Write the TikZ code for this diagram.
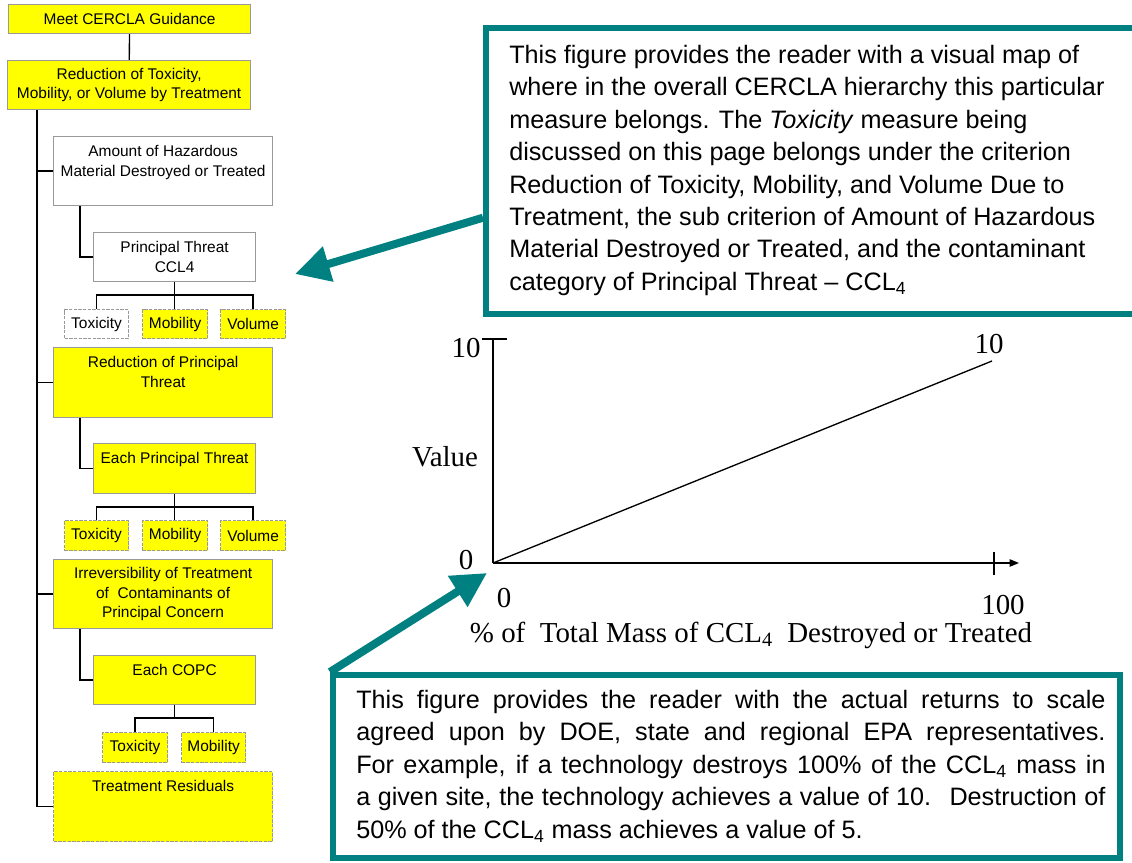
\documentclass[tikz,border=0pt]{standalone}
\usepackage{fontspec}
\setmainfont{Liberation Sans}
\newfontfamily\graphfont{Liberation Serif}
\usetikzlibrary{arrows.meta,fit,calc}
\definecolor{tealline}{HTML}{008080}
\definecolor{boxyellow}{HTML}{FFFF00}
\definecolor{boxedge}{HTML}{999999}

% box given by its corners (in px): style, name, x1, y1, x2, y2, text
\newcommand\chartbox[7]{%
  \node[#1, anchor=north west, minimum width={(#5-#3)*0.75pt},
        minimum height={(#6-#4)*0.75pt}] (#2) at (#3,#4) {#7};}

\begin{document}
\begin{tikzpicture}[x=0.75pt,y=-0.75pt,
  boxfont/.style={font=\fontsize{11.6}{14.6}\selectfont},
  boxbase/.style={draw=boxedge, line width=0.9pt, inner sep=0pt, boxfont, align=center},
  ybox/.style={boxbase, fill=boxyellow},
  wbox/.style={boxbase, fill=white},
  dashbox/.style={dash pattern=on 2.5pt off 1pt},
  toptext/.style={anchor=north, inner sep=0pt, yshift=-7pt, align=center, boxfont},
  link/.style={draw=black, line width=1pt},
  callout/.style={draw=tealline, line width=4.5pt, fill=white, inner sep=0pt},
  callfont/.style={font=\fontsize{18.9}{24.3}\selectfont},
  pointer/.style={draw=tealline, line width=6pt, -{Triangle[length=26pt,width=26pt]}},
  gfont/.style={font=\graphfont\fontsize{21.7}{26}\selectfont, inner sep=0pt},
  axis/.style={draw=black, line width=1pt}
]
\useasboundingbox[fill=white] (0,0) rectangle (1132,863);

% ---------- hierarchy ----------
\chartbox{ybox}{meet}{8}{4}{250}{33}{Meet CERCLA Guidance}
\chartbox{ybox}{red}{7}{60}{250}{109}{Reduction of Toxicity,\\Mobility, or Volume by Treatment}

\chartbox{wbox}{amt}{53}{136}{272}{205}{}
\node[toptext] (amt-t) at (amt.north) {Amount of Hazardous\\Material Destroyed or Treated};
\chartbox{wbox}{pt}{93}{232}{255}{281}{Principal Threat\\CCL4}
\chartbox{wbox, dashbox}{tox1}{64}{309}{128}{338}{Toxicity}
\chartbox{ybox, dashbox}{mob1}{142}{309}{207}{338}{Mobility}
\chartbox{ybox, dashbox}{vol1}{220}{309}{285}{338}{Volume}

\chartbox{ybox}{rpt}{53}{347}{272}{417}{}
\node[toptext] (rpt-t) at (rpt.north) {Reduction of Principal\\Threat};
\chartbox{ybox}{ept}{93}{443}{255}{493}{}
\node[toptext] (ept-t) at (ept.north) {Each Principal Threat};
\chartbox{ybox, dashbox}{tox2}{64}{520}{128}{550}{Toxicity}
\chartbox{ybox, dashbox}{mob2}{142}{520}{207}{550}{Mobility}
\chartbox{ybox, dashbox}{vol2}{220}{520}{285}{550}{Volume}

\chartbox{ybox}{irr}{53}{559}{272}{628}{Irreversibility of Treatment\\of \ Contaminants of\\Principal Concern}
\chartbox{ybox}{copc}{93}{655}{255}{704}{}
\node[toptext] (copc-t) at (copc.north) {Each COPC};
\chartbox{ybox, dashbox}{tox3}{102}{732}{167}{762}{Toxicity}
\chartbox{ybox, dashbox}{mob3}{181}{732}{245}{762}{Mobility}

\chartbox{ybox, dashbox}{res}{53}{771}{272}{841}{}
\node[toptext] (res-t) at (res.north) {Treatment Residuals};

% connectors
\coordinate (trunk) at (37,0);
\coordinate (stem) at (80,0);
\draw[link] (meet) -- (red);
\draw[link] (red.south -| trunk) |- (res.west);
\draw[link] (trunk |- amt.west) -- (amt.west);
\draw[link] (trunk |- rpt.west) -- (rpt.west);
\draw[link] (trunk |- irr.west) -- (irr.west);
\draw[link] (amt.south -| stem) |- (pt.west);
\draw[link] (rpt.south -| stem) |- (ept.west);
\draw[link] (irr.south -| stem) |- (copc.west);

\draw[link] (tox1.north) -- ++(0,-14) -| (vol1.north);
\draw[link] (pt.south) -- (pt.south |- mob1.north);
\draw[link] (tox2.north) -- ++(0,-13) -| (vol2.north);
\draw[link] (ept.south) -- (ept.south |- mob2.north);
\draw[link] (tox3.north) -- ++(0,-14) coordinate (bar3) -| (mob3.north);
\draw[link] (copc.south) -- (copc.south |- bar3);

% ---------- value function ----------
\coordinate (o) at (493,563);
\coordinate (ytop) at (493,339);
\coordinate (xend) at (1019,563);
\coordinate (vmax) at (992,361);
\draw[axis] (ytop) -- (o);
\draw[axis, -{Triangle[length=7pt,width=5.5pt]}] (o) -- (xend);
\draw[axis] (482,339) -- (507,339);
\draw[axis] (994,552) -- (994,575);
\draw[axis] (o) -- (vmax);

\node[gfont, anchor=base] (y10) at (466,357) {10};
\node[gfont, anchor=base] (y0) at (466,569) {0};
\node[gfont, anchor=base] (ylab) at (445,466) {Value};
\node[gfont, anchor=base] (x0) at (504,607) {0};
\node[gfont, anchor=base] (x100) at (1003,614) {100};
\node[gfont, anchor=base] (xlab) at (751,642) {\% of \ Total Mass of CCL\textsubscript{4} \ Destroyed or Treated};
\node[gfont, anchor=base] (v10) at (989,353) {10};

% ---------- explanatory callouts ----------
\node[callout, fit={(486,28)(1145,314)}] (mapbox) {};
\node[callfont, anchor=north west, inner sep=0pt, align=left] (maptext) at (509,45)
  {This figure provides the reader with a visual map of\\
   where in the overall CERCLA hierarchy this particular\\
   measure belongs. The \textit{Toxicity} measure being\\
   discussed on this page belongs under the criterion\\
   Reduction of Toxicity, Mobility, and Volume Due to\\
   Treatment, the sub criterion of Amount of Hazardous\\
   Material Destroyed or Treated, and the contaminant\\
   category of Principal Threat -- CCL\textsubscript{4}};

\node[callout, fit={(333,675)(1120,858)}] (valbox) {};
\node[callfont, anchor=north west, inner sep=0pt, text width=562pt, align=justify] (valtext) at (356,690)
  {\parindent=0pt\tolerance=10000\hbadness=10000
   This figure provides the reader with the actual returns to scale\linebreak
   agreed upon by DOE, state and regional EPA representatives.\linebreak
   For example, if a technology destroys 100\% of the CCL\textsubscript{4} mass in\linebreak
   a given site, the technology achieves a value of 10.~ Destruction of\linebreak
   50\% of the CCL\textsubscript{4} mass achieves a value of 5.};

\coordinate (maptip) at (295,274);
\coordinate (origtip) at (487,573);
\draw[pointer] ($(mapbox.north west)!0.66!(mapbox.south west)$) -- (maptip);
\draw[pointer] (valbox.north west) -- (origtip);
\end{tikzpicture}
\end{document}
